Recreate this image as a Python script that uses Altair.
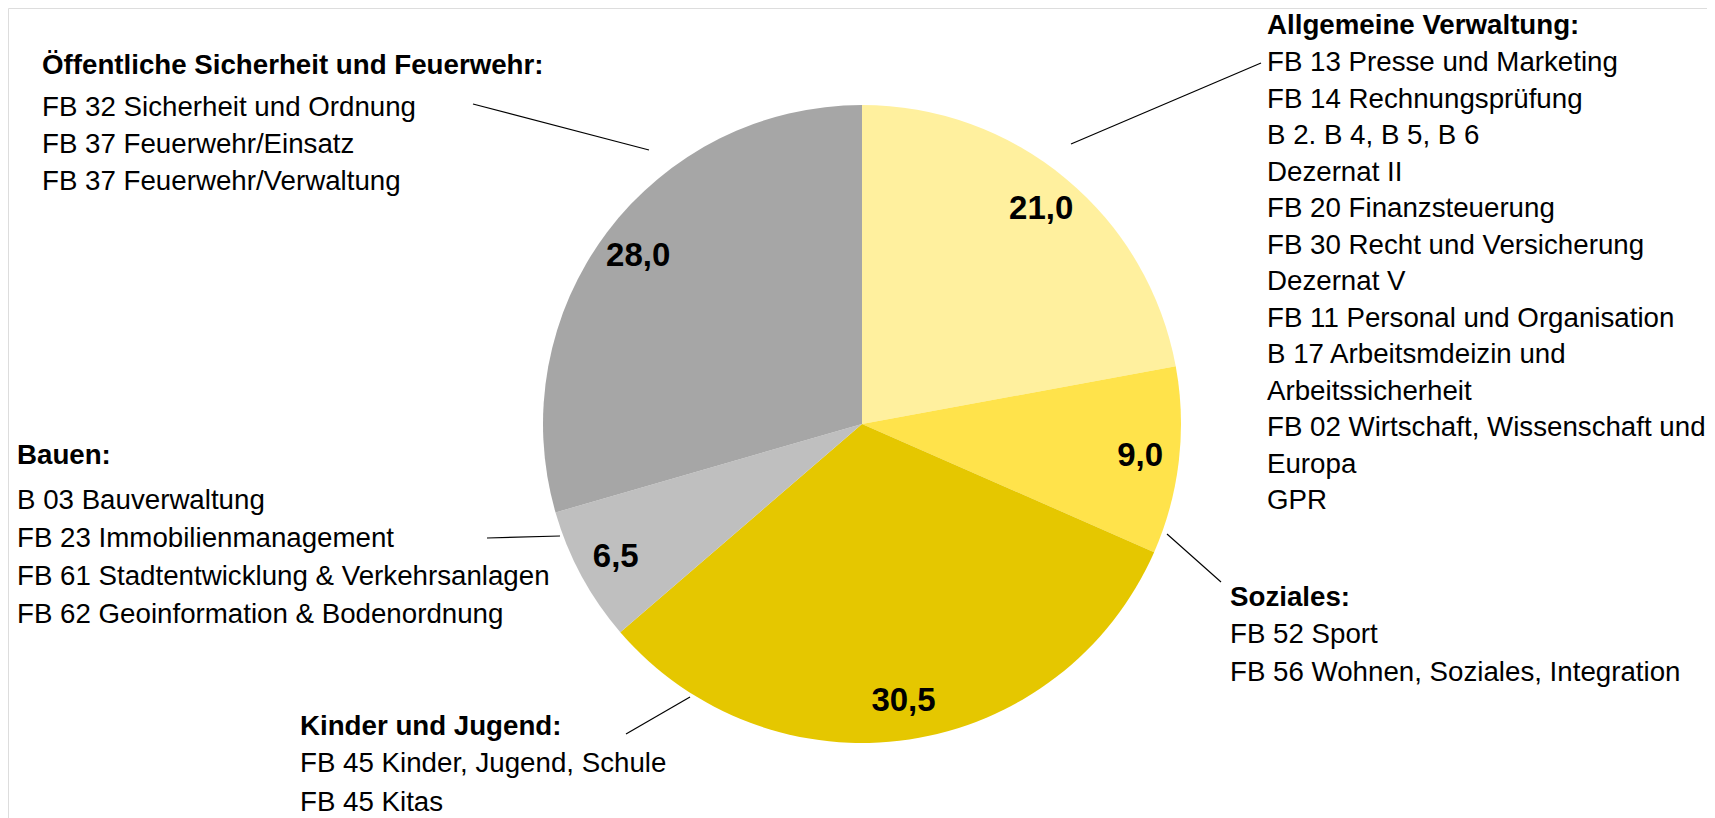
import altair as alt
import pandas as pd

# ---- data ----
categories = ["Allgemeine Verwaltung", "Soziales", "Kinder und Jugend", "Bauen",
              "Öffentliche Sicherheit und Feuerwehr"]
values = [21.0, 9.0, 30.5, 6.5, 28.0]
value_labels = ["21,0", "9,0", "30,5", "6,5", "28,0"]
colors = ["#FFF09E", "#FFE34B", "#E5C700", "#BFBFBF", "#A6A6A6"]

block_titles = ["Allgemeine Verwaltung:", "Soziales:", "Kinder und Jugend:", "Bauen:",
                "Öffentliche Sicherheit und Feuerwehr:"]
block_lines = [
    ["FB 13 Presse und Marketing", "FB 14 Rechnungsprüfung", "B 2. B 4, B 5, B 6",
     "Dezernat II", "FB 20 Finanzsteuerung", "FB 30 Recht und Versicherung",
     "Dezernat V", "FB 11 Personal und Organisation", "B 17 Arbeitsmdeizin und",
     "Arbeitssicherheit", "FB 02 Wirtschaft, Wissenschaft und", "Europa", "GPR"],
    ["FB 52 Sport", "FB 56 Wohnen, Soziales, Integration"],
    ["FB 45 Kinder, Jugend, Schule", "FB 45 Kitas"],
    ["B 03 Bauverwaltung", "FB 23 Immobilienmanagement",
     "FB 61 Stadtentwicklung & Verkehrsanlagen", "FB 62 Geoinformation & Bodenordnung"],
    ["FB 32 Sicherheit und Ordnung", "FB 37 Feuerwehr/Einsatz", "FB 37 Feuerwehr/Verwaltung"],
]

# ---- layout (pixels, chart coordinates) ----
W, H = 1699, 810
CX, CY, R = 854, 416, 319
FONT = "Liberation Sans, Arial, sans-serif"
FS = 27.7
block_pos = [(1259, 18), (1222, 590), (292, 719), (9, 448), (34, 58)]   # title x, title y
title_gap = [37, 37, 37, 45, 42]
line_step = [36.5, 37.5, 39, 38, 37.2]
leaders = [((1063, 136), (1253, 55)), ((1159, 526), (1213, 574)),
           ((618, 726), (682, 689)), ((479, 530), (552, 528)),
           ((465, 96), (641, 142))]

pie_df = pd.DataFrame({"cat": categories, "value": values, "label": value_labels,
                       "order": list(range(len(values)))})

rows = []
for i, t in enumerate(block_titles):
    x0, y0 = block_pos[i]
    rows.append({"text": t, "px": x0, "py": y0, "bold": True})
    for j, ln in enumerate(block_lines[i]):
        rows.append({"text": ln, "px": x0, "py": y0 + title_gap[i] + j * line_step[i], "bold": False})
text_df = pd.DataFrame(rows)

lead_df = pd.DataFrame([{"x": a[0], "y": a[1], "x2": b[0], "y2": b[1]} for a, b in leaders])

color_scale = alt.Scale(domain=categories, range=colors)

base = alt.Chart(pie_df)
arcs = base.mark_arc(outerRadius=R, strokeWidth=0).encode(
    theta=alt.Theta("value:Q", stack=True),
    order=alt.Order("order:Q"),
    color=alt.Color("cat:N", scale=color_scale, legend=None),
    x=alt.value(CX), y=alt.value(CY),
)
vlabels = base.mark_text(radius=280, font=FONT, fontSize=33, fontWeight="bold",
                         color="#000000").encode(
    theta=alt.Theta("value:Q", stack=True),
    order=alt.Order("order:Q"),
    text="label:N",
    x=alt.value(CX), y=alt.value(CY),
)

tbase = alt.Chart(text_df)
titles = tbase.transform_filter("datum.bold").mark_text(
    font=FONT, fontSize=FS, fontWeight="bold", align="left", baseline="middle", color="#000000"
).encode(x=alt.X("px:Q", scale=None), y=alt.Y("py:Q", scale=None), text="text:N")
body = tbase.transform_filter("!datum.bold").mark_text(
    font=FONT, fontSize=FS, align="left", baseline="middle", color="#000000"
).encode(x=alt.X("px:Q", scale=None), y=alt.Y("py:Q", scale=None), text="text:N")

lines = alt.Chart(lead_df).mark_rule(color="#000000", strokeWidth=1.2).encode(
    x=alt.X("x:Q", scale=None), y=alt.Y("y:Q", scale=None),
    x2="x2:Q", y2="y2:Q",
)

chart = alt.layer(arcs, vlabels, lines, titles, body).properties(
    width=W, height=H, padding=0, autosize=alt.AutoSizeParams(type="none")
).configure_view(strokeWidth=0, stroke="transparent").configure(background="#ffffff")

chart.save("out.html", embed_options={"renderer": "svg", "actions": False})
